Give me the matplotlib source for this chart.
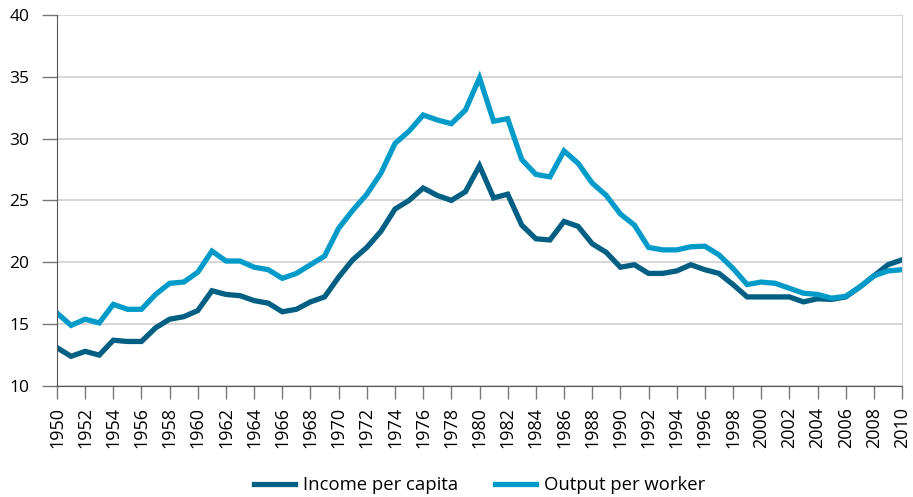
import matplotlib
matplotlib.use("Agg")
import matplotlib.pyplot as plt

plt.rcParams['font.family'] = ['Open Sans', 'DejaVu Sans']

years = list(range(1950, 2011))

income_per_capita = [
    13.1, 12.4, 12.8, 12.5, 13.7, 13.6, 13.6, 14.7, 15.4, 15.6,
    16.1, 17.7, 17.4, 17.3, 16.9, 16.7, 16.0, 16.2, 16.8, 17.2,
    18.8, 20.2, 21.2, 22.5, 24.3, 25.0, 26.0, 25.4, 25.0, 25.7,
    27.8, 25.2, 25.5, 23.0, 21.9, 21.8, 23.3, 22.9, 21.5, 20.8,
    19.6, 19.8, 19.1, 19.1, 19.3, 19.8, 19.4, 19.1, 18.2, 17.2,
    17.2, 17.2, 17.2, 16.8, 17.05, 17.0, 17.2, 18.0, 18.9, 19.8,
    20.2,
]

output_per_worker = [
    15.9, 14.9, 15.4, 15.1, 16.6, 16.2, 16.2, 17.4, 18.3, 18.4,
    19.2, 20.9, 20.1, 20.1, 19.6, 19.4, 18.7, 19.1, 19.8, 20.5,
    22.75, 24.2, 25.5, 27.2, 29.6, 30.6, 31.9, 31.5, 31.2, 32.3,
    34.9, 31.4, 31.6, 28.3, 27.1, 26.9, 29.0, 28.0, 26.4, 25.4,
    23.9, 23.0, 21.2, 21.0, 21.0, 21.25, 21.3, 20.6, 19.5, 18.2,
    18.4, 18.3, 17.9, 17.5, 17.4, 17.1, 17.25, 18.0, 18.9, 19.3,
    19.4,
]

dark = "#005f82"
light = "#009bc8"

fig = plt.figure(figsize=(9.13, 4.97), dpi=100)
ax = fig.add_axes([0.0624, 0.2233, 0.9256, 0.747])

ax.plot(years, income_per_capita, color=dark, lw=3.8, label="Income per capita",
        solid_joinstyle="miter")
ax.plot(years, output_per_worker, color=light, lw=3.8, label="Output per worker",
        solid_joinstyle="miter")

ax.set_xlim(1950, 2010)
ax.set_ylim(10, 40)
ax.set_yticks(range(10, 41, 5))
ax.set_xticks(range(1950, 2011, 2))
ax.set_xticklabels([str(y) for y in range(1950, 2011, 2)], rotation=90)

ax.grid(axis='y', color='#d0d0d0', lw=1.2)
ax.set_axisbelow(True)
ax.spines['top'].set_visible(False)
ax.spines['right'].set_color('#d0d0d0')
ax.spines['left'].set_color('#555555')
ax.spines['bottom'].set_color('#555555')
ax.tick_params(axis='y', length=11, width=1, color='#777777', labelsize=12.5, pad=9)
ax.tick_params(axis='x', length=9, width=1, color='#777777', labelsize=13, pad=6)

fig.legend(loc='center', bbox_to_anchor=(0.525, 0.024), ncol=2, frameon=False,
           fontsize=13.3, handlelength=2.25, columnspacing=2.0, handletextpad=0.4)

fig.savefig("out.png", dpi=100)
